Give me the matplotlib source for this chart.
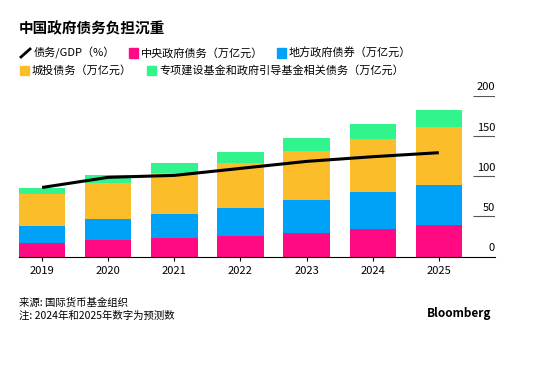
import numpy as np
import matplotlib
matplotlib.use("Agg")
import matplotlib.pyplot as plt
from matplotlib.patches import Rectangle
from matplotlib.lines import Line2D

plt.rcParams['font.family'] = ['Noto Sans CJK SC', 'DejaVu Sans']

# 数据
years = ['2019', '2020', '2021', '2022', '2023', '2024', '2025']
central = [16.6, 20.7, 23.2, 25.7, 29.4, 34.4, 38.9]
local = [21.5, 26.1, 30.2, 35.2, 41.4, 45.5, 50.5]
lgfv = [40.2, 45.1, 50.1, 55.5, 60.0, 65.9, 71.7]
special = [7.4, 9.5, 12.4, 13.6, 16.6, 19.0, 20.7]
debt_gdp = [86.0, 98.6, 101.0, 109.7, 118.4, 124.2, 129.2]
yticks = [0, 50, 100, 150, 200]

c_pink = '#ff0a82'
c_blue = '#00a2f7'
c_yellow = '#fbbd29'
c_green = '#31f58c'

W, H = 554, 373
fig = plt.figure(figsize=(W / 100, H / 100), dpi=100)
ax = fig.add_axes([19 / W, 1 - 256.7 / H, (495 - 19) / W, (256.7 - 95.7) / H])

x = np.arange(len(years))
bw = 0.7
bottom = np.zeros(len(years))
for vals, col in [(central, c_pink), (local, c_blue), (lgfv, c_yellow), (special, c_green)]:
    ax.bar(x, vals, bw, bottom=bottom, color=col, linewidth=0, zorder=2)
    bottom += np.array(vals)

ax.plot(x, debt_gdp, color='black', lw=2.2, zorder=3, solid_capstyle='butt')

ax.set_xlim(-0.35, 6.85)
ax.set_ylim(0, 200)
for s in ['top', 'right', 'left']:
    ax.spines[s].set_visible(False)
ax.spines['bottom'].set_color('black')
ax.spines['bottom'].set_linewidth(0.8)
ax.set_yticks([])
ax.set_xticks(x)
ax.set_xticklabels(years, fontsize=8)
ax.tick_params(axis='x', length=3, width=0.8, pad=4)

# 右侧刻度线与标签
ax.hlines(yticks[1:], 6.52, 6.85, color='#555555', lw=0.8, zorder=1)
for v in yticks:
    ax.text(6.85, v + 4, str(v), ha='right', va='bottom', fontsize=8)

# 标题
fig.text(19 / W, 1 - 28 / H, '中国政府债务负担沉重', fontsize=10.5, fontweight='bold', va='center')

# 图例
fs_leg = 8
def sq(xp, yp, col):
    fig.patches.append(Rectangle((xp / W, 1 - (yp + 4.5) / H), 9 / W, 9 / H,
                                 transform=fig.transFigure, color=col))

y1, y2 = 53, 70
fig.lines.append(Line2D([21 / W, 30 / W], [1 - (y1 + 4) / H, 1 - (y1 - 4) / H],
                        transform=fig.transFigure, color='black', lw=2))
fig.text(34 / W, 1 - y1 / H, '债务/GDP（%）', fontsize=fs_leg, va='center')
sq(129, y1, c_pink)
fig.text(141 / W, 1 - y1 / H, '中央政府债务（万亿元）', fontsize=fs_leg, va='center')
sq(277, y1, c_blue)
fig.text(289 / W, 1 - y1 / H, '地方政府债券（万亿元）', fontsize=fs_leg, va='center')
sq(20, y2, c_yellow)
fig.text(32 / W, 1 - y2 / H, '城投债务（万亿元）', fontsize=fs_leg, va='center')
sq(147, y2, c_green)
fig.text(159 / W, 1 - y2 / H, '专项建设基金和政府引导基金相关债务（万亿元）', fontsize=fs_leg, va='center')

# 脚注
fig.text(19 / W, 1 - 303 / H, '来源: 国际货币基金组织', fontsize=7.5, va='center')
fig.text(19 / W, 1 - 316 / H, '注: 2024年和2025年数字为预测数', fontsize=7.5, va='center')
fig.text(491 / W, 1 - 314 / H, 'Bloomberg', fontsize=8.5, fontweight='bold', ha='right', va='center')

fig.savefig('out.png', dpi=100)
